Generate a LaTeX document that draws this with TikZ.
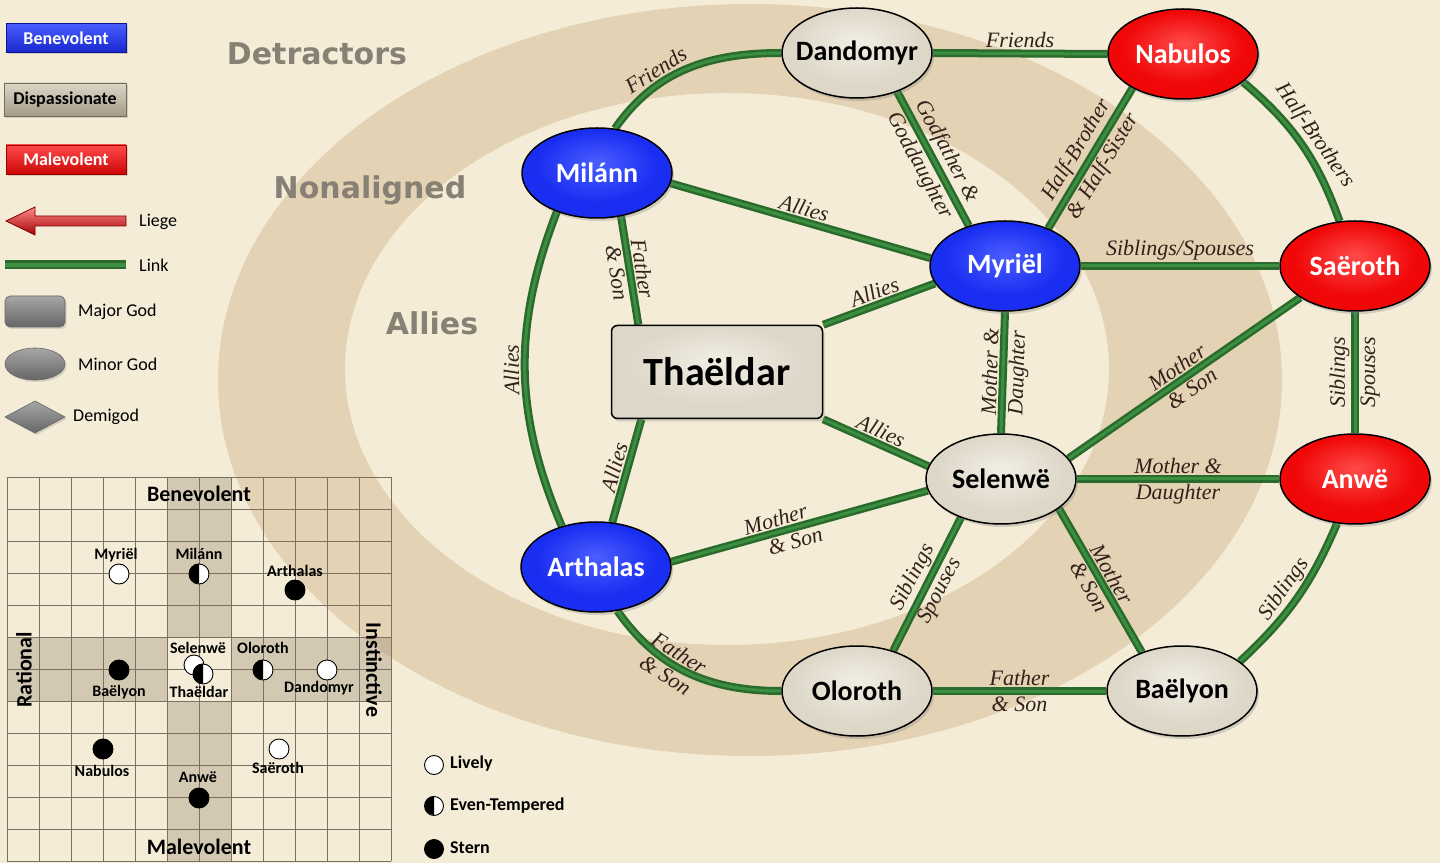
\documentclass[tikz,border=0pt]{standalone}
\usepackage{fontspec}
\setmainfont{Carlito}
\newfontfamily\relfont{Liberation Serif}
\newfontfamily\headfont{DejaVu Sans}
\usetikzlibrary{shapes.geometric,shadows}

% palette
\definecolor{parchment}{HTML}{F4ECD6}
\definecolor{ringtan}{HTML}{E4D2B4}
\definecolor{linkdark}{HTML}{2A6B2D}
\definecolor{linklight}{HTML}{3C8E40}
\definecolor{reltext}{HTML}{33201A}
\definecolor{headgray}{HTML}{878074}
\definecolor{gridline}{HTML}{7A7163}
\definecolor{bandfill}{HTML}{8E806A}
\definecolor{blueA}{HTML}{4A5EFF}
\definecolor{blueB}{HTML}{1A2EF2}
\definecolor{blueC}{HTML}{0A128C}
\definecolor{redA}{HTML}{FF4A4A}
\definecolor{redB}{HTML}{F00808}
\definecolor{redC}{HTML}{9E0000}
\definecolor{grayA}{HTML}{F2EEE4}
\definecolor{grayB}{HTML}{DDD7C8}
\definecolor{grayC}{HTML}{A39A86}

% glossy fills for the deity nodes
\pgfdeclareradialshading{blueglow}{\pgfpoint{0bp}{6bp}}{color(0bp)=(blueA); color(20bp)=(blueB); color(40bp)=(blueB); color(50bp)=(blueC)}
\pgfdeclareradialshading{redglow}{\pgfpoint{0bp}{6bp}}{color(0bp)=(redA); color(20bp)=(redB); color(40bp)=(redB); color(50bp)=(redC)}
\pgfdeclareradialshading{grayglow}{\pgfpoint{0bp}{6bp}}{color(0bp)=(grayA); color(22bp)=(grayB); color(40bp)=(grayB); color(50bp)=(grayC)}

\pgfdeclarelayer{bg}
\pgfdeclarelayer{links}
\pgfsetlayers{bg,links,main}

\tikzset{
  godshape/.style={ellipse, minimum width=150pt, minimum height=90pt, inner xsep=-25pt, inner ysep=0pt,
    draw=black, line width=1.5pt, font=\bfseries\fontsize{28}{30}\selectfont,
    drop shadow={opacity=0.3, shadow xshift=2pt, shadow yshift=-3pt}},
  goodgod/.style={godshape, shading=blueglow, text=white},
  evilgod/.style={godshape, shading=redglow, text=white},
  neutralgod/.style={godshape, shading=grayglow, text=black},
  majorgod/.style={rectangle, rounded corners=6pt, minimum width=211pt, minimum height=93pt,
    draw=black, line width=1.5pt, shading=grayglow, font=\bfseries\fontsize{40}{44}\selectfont,
    drop shadow={opacity=0.3, shadow xshift=2pt, shadow yshift=-3pt}},
  link/.style={line width=8pt, draw=linkdark, postaction={draw=linklight, line width=3pt}},
  rel/.style={font=\relfont\itshape\fontsize{22}{24}\selectfont, text=reltext, sloped, inner sep=1.5pt},
  legbox/.style={rectangle, minimum width=120pt, minimum height=29pt, inner sep=0pt,
    font=\bfseries\fontsize{18}{20}\selectfont, line width=0.6pt,
    drop shadow={opacity=0.3, shadow xshift=1.5pt, shadow yshift=-2pt}},
  legtext/.style={anchor=west, font=\fontsize{18}{20}\selectfont, inner sep=0pt},
  keytext/.style={anchor=west, font=\bfseries\fontsize{18}{20}\selectfont, inner sep=0pt},
  head/.style={font=\headfont\bfseries\fontsize{30}{32}\selectfont, text=headgray},
  gridhead/.style={font=\bfseries\fontsize{22}{24}\selectfont, inner sep=0pt},
  dotlabel/.style={font=\bfseries\fontsize{16}{18}\selectfont, inner sep=0pt},
  dot/.style={circle, draw=black, line width=0.9pt, minimum size=20pt, inner sep=0pt},
  lively/.style={dot, fill=white},
  stern/.style={dot, fill=black},
}

\begin{document}
\begin{tikzpicture}[x=1pt, y=1pt]
\useasboundingbox (0,0) rectangle (1440,863);

% parchment and the allegiance rings
\begin{pgfonlayer}{bg}
  \fill[parchment] (0,0) rectangle (1440,863);
  \fill[ringtan, even odd rule] (750,483) ellipse [x radius=532, y radius=376]
                                (727,494) ellipse [x radius=382, y radius=276];
\end{pgfonlayer}

% ring headings
\node[head] (hDetr) at (317,809) {Detractors};
\node[head] (hNon)  at (370,673) {Nonaligned};
\node[head] (hAll)  at (432,540) {Allies};

% legend
\node[legbox, top color=blueA, bottom color=blueB!85!black, draw=blueC, text=white] (lgBen) at (66,825) {Benevolent};
\node[legbox, top color=grayB, bottom color=grayC, draw=grayC!70!black, text=black, minimum width=122pt, minimum height=33pt] (lgDis) at (65,763.5) {Dispassionate};
\node[legbox, top color=redA, bottom color=redB!85!black, draw=redC, text=white] (lgMal) at (66,703.5) {Malevolent};

\draw[draw=redC!80!black, line width=0.8pt, top color=red!45!white, bottom color=red!65!black]
  (126,637) -- (35,637) -- (35,628) -- (6,642) -- (35,656) -- (35,647) -- (126,647) -- cycle;
\node[legtext] (kLiege) at (139,641) {Liege};

\draw[line width=9pt, linkdark] (5,598) -- (126,598);
\draw[line width=3.5pt, linklight] (5,598) -- (126,598);
\node[legtext] (kLink) at (139,598) {Link};

\draw[rounded corners=5pt, draw=black!60, line width=0.6pt, top color=black!35, bottom color=black!60,
      drop shadow={opacity=0.25, shadow xshift=1.5pt, shadow yshift=-2pt}] (5,536) rectangle (65,567);
\node[legtext] (kMajor) at (78,551) {Major God};

\draw[draw=black!60, line width=0.6pt, top color=black!35, bottom color=black!60,
      drop shadow={opacity=0.25, shadow xshift=1.5pt, shadow yshift=-2pt}] (35,499) ellipse [x radius=30, y radius=16];
\node[legtext] (kMinor) at (78,499) {Minor God};

\draw[draw=black!60, line width=0.6pt, top color=black!35, bottom color=black!60,
      drop shadow={opacity=0.25, shadow xshift=1.5pt, shadow yshift=-2pt}] (5,446) -- (35,462) -- (65,446) -- (35,430) -- cycle;
\node[legtext] (kDemi) at (73,446) {Demigod};

% temperament chart
\fill[bandfill, opacity=0.32, even odd rule] (167,2) rectangle (231,386) (7,162) rectangle (391,226);
\draw[gridline, line width=0.9pt, shift={(7,2)}] (0,0) grid[step=32] (384,384);

\node[gridhead] (gBen) at (199,369) {Benevolent};
\node[gridhead] (gMal) at (199,16) {Malevolent};
\node[gridhead, rotate=90] (gRat) at (24,193) {Rational};
\node[gridhead, rotate=-90] (gIns) at (374,193) {Instinctive};

\node[lively] (dMyriel) at (119,289) {};
\node[dotlabel] (tMyriel) at (116,308) {Myriël};
\node[lively] (dMilann) at (199,289) {};
\fill (dMilann.north) arc [start angle=90, end angle=270, radius=10pt] -- cycle;
\node[dotlabel] (tMilann) at (199,309) {Milánn};
\node[stern] (dArthalas) at (295,273) {};
\node[dotlabel] (tArthalas) at (295,292) {Arthalas};
\node[lively] (dSelenwe) at (194,198) {};
\node[dotlabel] (tSelenwe) at (198,215) {Selenwë};
\node[lively] (dThaeldar) at (203,189) {};
\fill (dThaeldar.north) arc [start angle=90, end angle=270, radius=10pt] -- cycle;
\node[dotlabel] (tThaeldar) at (199,171) {Thaëldar};
\node[lively] (dOloroth) at (263,193) {};
\fill (dOloroth.north) arc [start angle=90, end angle=270, radius=10pt] -- cycle;
\node[dotlabel] (tOloroth) at (263,215) {Oloroth};
\node[lively] (dDandomyr) at (327,193) {};
\node[dotlabel] (tDandomyr) at (319,175) {Dandomyr};
\node[stern] (dBaelyon) at (119,193) {};
\node[dotlabel] (tBaelyon) at (119,171) {Baëlyon};
\node[stern] (dNabulos) at (103,114) {};
\node[dotlabel] (tNabulos) at (102,92) {Nabulos};
\node[lively] (dSaeroth) at (279,114) {};
\node[dotlabel] (tSaeroth) at (278,95) {Saëroth};
\node[stern] (dAnwe) at (199,65) {};
\node[dotlabel] (tAnwe) at (198,86) {Anwë};

% temperament key
\node[lively, minimum size=19pt] (kLively) at (434,98) {};
\node[keytext] (kLivelyT) at (450,99) {Lively};
\node[lively, minimum size=19pt] (kEven) at (434,57) {};
\fill (kEven.north) arc [start angle=90, end angle=270, radius=9.5pt] -- cycle;
\node[keytext] (kEvenT) at (450,57) {Even-Tempered};
\node[stern, minimum size=19pt] (kStern) at (434,14) {};
\node[keytext] (kSternT) at (450,15) {Stern};

% deities
\node[goodgod]    (milann)   at (597,690)  {Milánn};
\node[neutralgod] (dandomyr) at (857,810)  {Dandomyr};
\node[evilgod]    (nabulos)  at (1183,809) {Nabulos};
\node[goodgod]    (myriel)   at (1005,597) {Myriël};
\node[evilgod]    (saeroth)  at (1355,597) {Saëroth};
\node[majorgod]   (thaeldar) at (717,491)  {Thaëldar};
\node[neutralgod] (selenwe)  at (1001,384) {Selenwë};
\node[evilgod]    (anwe)     at (1355,384) {Anwë};
\node[goodgod]    (arthalas) at (596,296)  {Arthalas};
\node[neutralgod] (oloroth)  at (857,172)  {Oloroth};
\node[neutralgod] (baelyon)  at (1182,172) {Baëlyon};

% relationships
\begin{pgfonlayer}{links}
\draw[link] (milann.68) to[out=55, in=180] node[rel, above, pos=0.35] {Friends} (dandomyr.west);
\draw[link] (dandomyr.east) -- node[rel, above] {Friends} (nabulos.west);
\draw[link] (dandomyr.-44) -- node[rel, above] {Godfather \&} node[rel, below] {Goddaughter} (myriel.132);
\draw[link] (myriel.41) -- node[rel, above] {Half-Brother} node[rel, below] {\& Half-Sister} (nabulos.214);
\draw[link] (nabulos.-25) to[bend left=15] node[rel, above] {Half-Brothers} (saeroth.109);
\draw[link] (milann.-8) -- node[rel, above] {Allies} (myriel.174);
\draw[link] (myriel.east) -- node[rel, above] {Siblings/Spouses} (saeroth.west);
\draw[link] (milann.-61) -- node[rel, above] {Father} node[rel, below] {\& Son} (thaeldar.149);
\draw[link] (arthalas.130) to[bend left=22] node[rel, above, allow upside down] {Allies} (milann.224);
\draw[link] (thaeldar.north east) -- node[rel, above] {Allies} (myriel.194);
\draw[link] (selenwe.north) -- node[rel, above] {Mother \&} node[rel, below] {Daughter} (myriel.south);
\draw[link] (selenwe.17) -- node[rel, above] {Mother} node[rel, below] {\& Son} (saeroth.210);
\draw[link] (anwe.north) -- node[rel, above] {Siblings} node[rel, below] {Spouses} (saeroth.south);
\draw[link] (thaeldar.south east) -- node[rel, above] {Allies} (selenwe.170);
\draw[link] (arthalas.70) -- node[rel, above] {Allies} (thaeldar.212);
\draw[link] (selenwe.east) -- node[rel, above] {Mother \&} node[rel, below] {Daughter} (anwe.west);
\draw[link] (arthalas.4) -- node[rel, above, pos=0.42] {Mother} node[rel, below, pos=0.47] {\& Son} (selenwe.189);
\draw[link] (oloroth.48) -- node[rel, above] {Siblings} node[rel, below] {Spouses} (selenwe.224);
\draw[link] (selenwe.-27) -- node[rel, above] {Mother} node[rel, below] {\& Son} (baelyon.136);
\draw[link] (arthalas.-64) to[out=-55, in=180] node[rel, above, pos=0.4] {Father} node[rel, below, pos=0.4] {\& Son} (oloroth.west);
\draw[link] (oloroth.east) -- node[rel, above] {Father} node[rel, below] {\& Son} (baelyon.west);
\draw[link] (baelyon.27) to[bend right=12] node[rel, above] {Siblings} (anwe.-112);
\end{pgfonlayer}
\end{tikzpicture}
\end{document}
